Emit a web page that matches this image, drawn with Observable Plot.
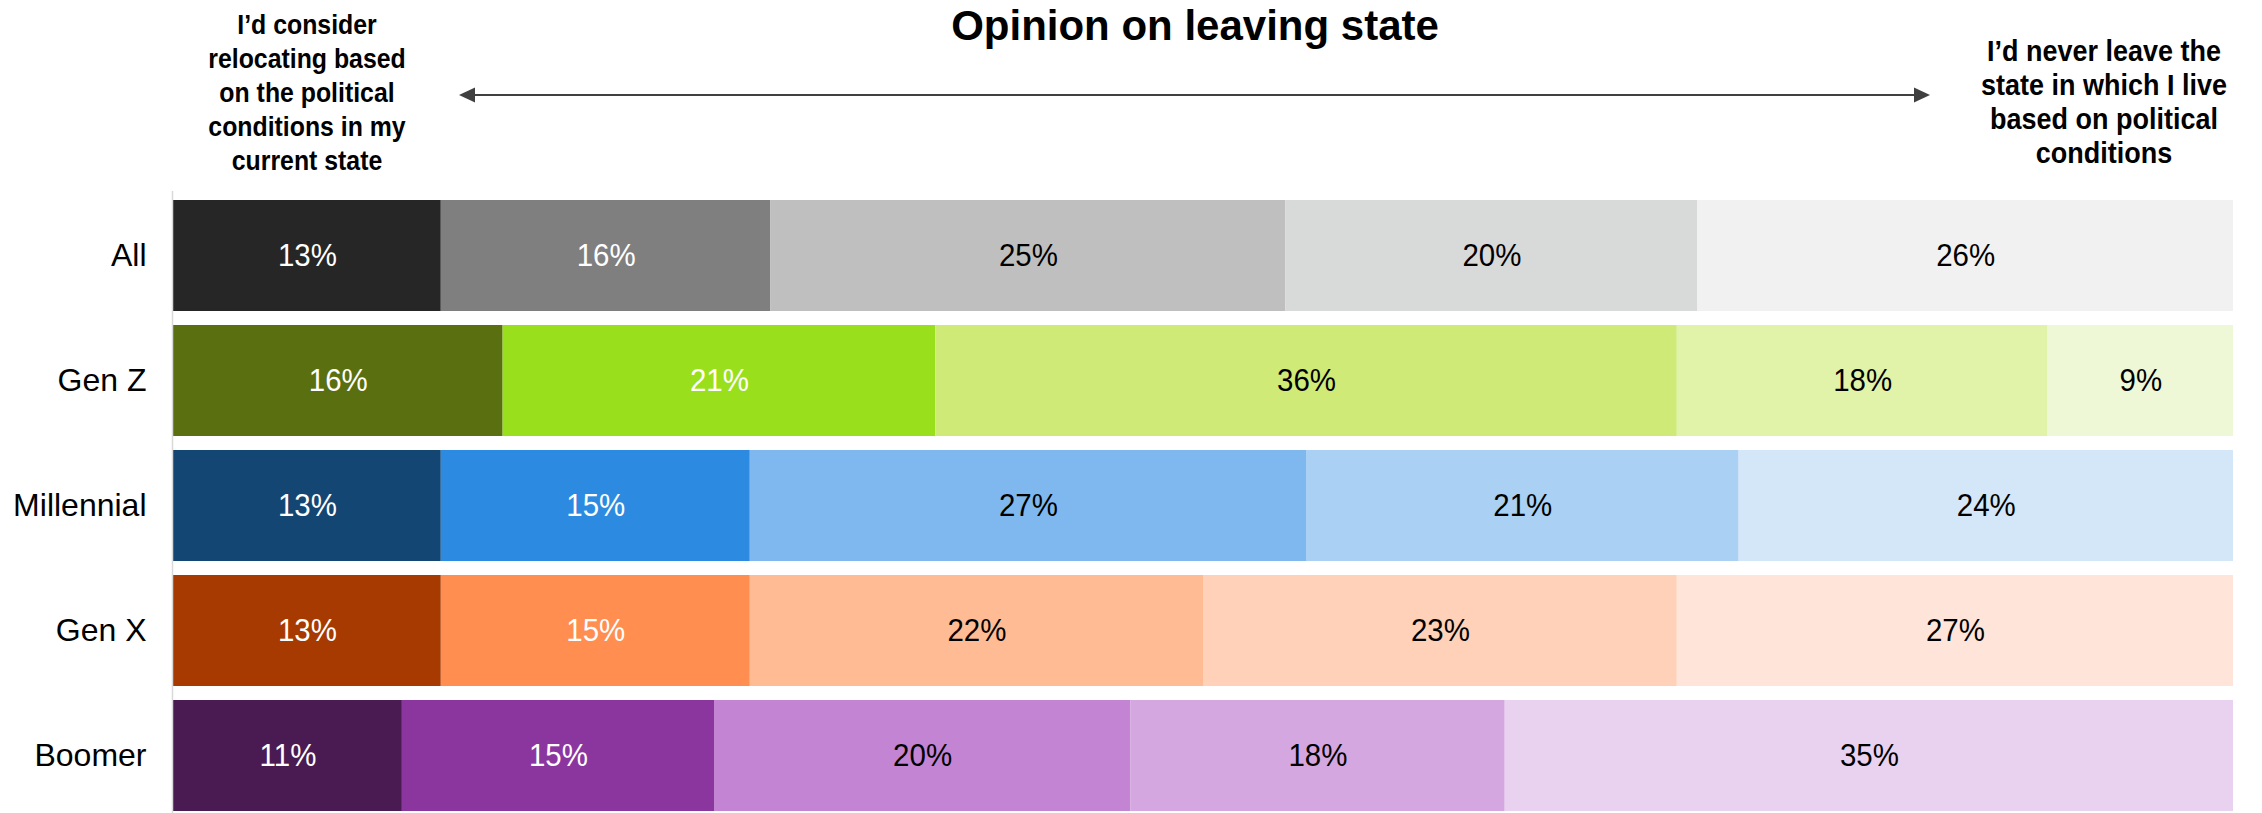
<!DOCTYPE html>
<html><head><meta charset="utf-8">
<script src="https://cdn.jsdelivr.net/npm/d3@7"></script>
<script src="https://cdn.jsdelivr.net/npm/@observablehq/plot@0.6"></script>
<style>html,body{margin:0;padding:0;overflow:hidden;background:#fff;}</style>
</head><body><div id="chart"></div>
<script>
const groups = ["All", "Gen Z", "Millennial", "Gen X", "Boomer"];
const allValues = [13, 16, 25, 20, 26];
const genZValues = [16, 21, 36, 18, 9];
const millennialValues = [13, 15, 27, 21, 24];
const genXValues = [13, 15, 22, 23, 27];
const boomerValues = [11, 15, 20, 18, 35];
const allColors = ["#262626", "#7f7f7f", "#bfbfbf", "#d8d9d9", "#f1f1f1"];
const genZColors = ["#5a6f0f", "#9adf1c", "#cfea76", "#e0f3a8", "#eef8d6"];
const millennialColors = ["#144673", "#2c8be0", "#7fb8ee", "#aad0f3", "#d4e7f8"];
const genXColors = ["#a63a00", "#ff8e50", "#ffbb94", "#fed1b8", "#fee4d9"];
const boomerColors = ["#4a1b52", "#8b369f", "#c384d3", "#d5a7e0", "#e9d2ef"];
const labelColors = ["white", "white", "black", "black", "black"];
const title = "Opinion on leaving state";
const leftNote = ["I\u2019d consider", "relocating based", "on the political", "conditions in my", "current state"];
const rightNote = ["I\u2019d never leave the", "state in which I live", "based on political", "conditions"];

const seriesValues = [allValues, genZValues, millennialValues, genXValues, boomerValues];
const seriesColors = [allColors, genZColors, millennialColors, genXColors, boomerColors];
const rows = [];
groups.forEach((g, gi) => {
  seriesValues[gi].forEach((v, li) => {
    rows.push({group: g, level: li, value: v, color: seriesColors[gi][li], textColor: labelColors[li]});
  });
});

const font = "'Liberation Sans', Arial, sans-serif";
const plot = Plot.plot({
  width: 2262,
  height: 821,
  marginTop: 191,
  marginBottom: 0,
  marginLeft: 173,
  marginRight: 29,
  style: {fontFamily: font, fontSize: "31px", color: "#000", background: "#fff"},
  x: {domain: [0, 1], axis: null},
  y: {domain: groups, paddingInner: 0.111, paddingOuter: 0.0556, axis: null},
  marks: [
    Plot.barX(rows, Plot.stackX({x: "value", y: "group", fill: "color", offset: "normalize", order: null})),
    Plot.text(rows, Plot.stackX({x: "value", y: "group", text: d => d.value + "%", fill: "textColor", offset: "normalize", order: null, fontSize: 31, className: "pct"})),
    Plot.ruleX([0], {stroke: "#d9d9d9", strokeWidth: 1.5, dx: -1}),
    Plot.axisY({tickSize: 0, tickPadding: 27, fontSize: 32, label: null, fill: "#000"})
  ]
});
document.getElementById("chart").appendChild(plot);

function squeeze(sel, k) {
  sel.each(function() {
    const w = this.getComputedTextLength();
    if (w > 0) {
      this.setAttribute("textLength", w * k);
      this.setAttribute("lengthAdjust", "spacingAndGlyphs");
    }
  });
}

const svg = d3.select(plot);
squeeze(svg.selectAll("g.pct text"), 0.95);

const g = svg.append("g").attr("font-family", font).attr("font-weight", "bold").attr("fill", "#000").attr("text-anchor", "middle");
g.append("text").attr("x", 1195).attr("y", 25).attr("dy", "0.35em").attr("font-size", 42).text(title);
const ln = g.append("g").attr("font-size", 27);
leftNote.forEach((t, i) => ln.append("text").attr("x", 307).attr("y", 25 + i * 34).attr("dy", "0.35em").text(t));
const rn = g.append("g").attr("font-size", 29);
rightNote.forEach((t, i) => rn.append("text").attr("x", 2104).attr("y", 51 + i * 34).attr("dy", "0.35em").text(t));
squeeze(ln.selectAll("text"), 0.92);
squeeze(rn.selectAll("text"), 0.93);

const ay = 95, ax1 = 459, ax2 = 1930, head = 16, hh = 7.5;
const a = svg.append("g").attr("fill", "#404040");
a.append("line").attr("x1", ax1 + head - 2).attr("x2", ax2 - head + 2).attr("y1", ay).attr("y2", ay).attr("stroke", "#404040").attr("stroke-width", 2.2);
a.append("path").attr("d", `M${ax1},${ay}L${ax1 + head},${ay - hh}L${ax1 + head},${ay + hh}Z`);
a.append("path").attr("d", `M${ax2},${ay}L${ax2 - head},${ay - hh}L${ax2 - head},${ay + hh}Z`);
</script>
</body></html>
